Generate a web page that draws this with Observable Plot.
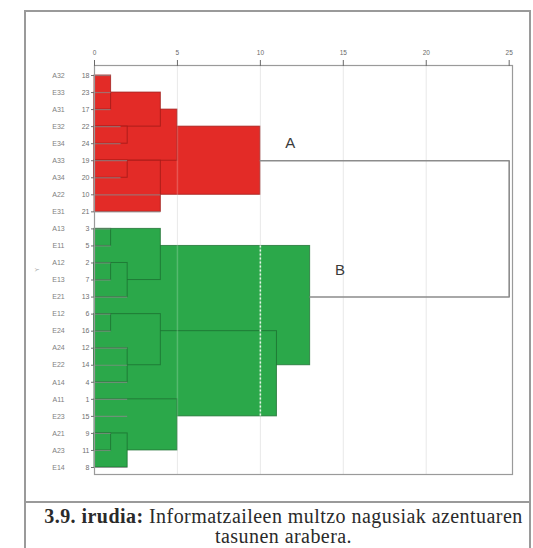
<!DOCTYPE html>
<html><head><meta charset="utf-8">
<script src="https://cdn.jsdelivr.net/npm/d3@7"></script>
<script src="https://cdn.jsdelivr.net/npm/@observablehq/plot@0.6"></script>
<style>
body{margin:0;background:#fff;}
#wrap{position:relative;width:533px;height:548px;overflow:hidden;background:#fff;}
#box{position:absolute;left:24px;top:10px;width:507px;height:600px;border:2px solid #9a9a9a;box-sizing:border-box;}
#sep{position:absolute;left:24px;top:501px;width:507px;height:2px;background:#9a9a9a;}
#chart{position:absolute;left:0;top:0;}
#cap{position:absolute;left:30px;width:507px;top:506px;text-align:center;font-family:"Liberation Serif",serif;font-size:20px;letter-spacing:0.45px;line-height:20px;color:#2a2a2a;}
</style></head>
<body>
<div id="wrap"><div id="box"></div><div id="sep"></div><div id="chart"></div>
<div id="cap"><b>3.9. irudia:</b> Informatzaileen multzo nagusiak azentuaren<br>tasunen arabera.</div></div>
<script>
// leaves (top to bottom)
const leafNames = ["A32","E33","A31","E32","E34","A33","A34","A22","E31","A13","E11","A12","E13","E21","E12","E24","A24","E22","A14","A11","E23","A21","A23","E14"];
const caseNumbers = [18,23,17,22,24,19,20,10,21,3,5,2,7,13,6,16,12,14,4,1,15,9,11,8];
const leafMergeHeight = [1,1,1,1.6,1.6,2,1.6,4,4,1,1,1,1,2,1,1,2,2,2,2,2,1,1,2];

// filled merge boxes (row span and rescaled distance)
const boxRow1   = [3, 2, 1, 5, 0, 3, 5,   10, 15, 19,  9, 14, 11, 16, 21,  9, 11, 14, 21];
const boxRow2   = [7, 5, 3, 8, 2, 4, 6,   17, 20, 22, 12, 17, 13, 18, 23, 10, 12, 15, 22];
const boxHeight = [10,5, 4, 4, 1, 2, 2,   13, 11,  5,  4,  4,  2,  2,  2,  1,  1,  1,  1];
const boxCluster = ["A","A","A","A","A","A","A","B","B","B","B","B","B","B","B","B","B","B","B"];

// top-level clusters and their join
const clusterNames = ["A","B"];
const clusterRow = [5, 13];
const clusterHeight = [10, 13];
const clusterLabelX = [11.5, 14.5];
const clusterLabelRow = [4, 11.45];
const rootHeight = 25;
const cutHeight = 10;
const cutRows = [10, 20];

const xTicks = [0,5,10,15,20,25];
const gridTicks = [5,10,15,20];

const fillColor = {A:"#e32b27", B:"#2ba84a"};
const edgeColor = {A:"#9c1a17", B:"#1c6e30"};

const rows = leafNames.map((d,i)=>i);
const boxes = boxRow1.map((r,i)=>({r1:r, r2:boxRow2[i], h:boxHeight[i], c:boxCluster[i]}))
  .sort((a,b)=>b.h-a.h);
const leaves = rows.map(i=>({row:i, name:leafNames[i], num:caseNumbers[i], h:leafMergeHeight[i]}));
const join = [
  [clusterHeight[0], clusterRow[0]],
  [rootHeight, clusterRow[0]],
  [rootHeight, clusterRow[1]],
  [clusterHeight[1], clusterRow[1]]
];

const chart = Plot.plot({
  width: 533,
  height: 500,
  marginLeft: 94,
  marginRight: 21,
  marginTop: 65,
  marginBottom: 26,
  style: {fontFamily: "Liberation Sans, Arial, sans-serif", background: "transparent"},
  x: {domain: [0, 25.2], label: null},
  y: {domain: [-0.587, 23.41], reverse: true, label: null},
  marks: [
    Plot.ruleX(gridTicks, {stroke: "#e4e4e4", strokeWidth: 1}),
    Plot.rect(boxes, {x1: 0, x2: "h", y1: "r1", y2: "r2",
      fill: d => fillColor[d.c], stroke: d => edgeColor[d.c], strokeWidth: 1, strokeOpacity: 0.75}),
    Plot.ruleY(leaves, {y: "row", x1: 0, x2: "h", stroke: "#8a8a8a", strokeOpacity: 0.7, strokeWidth: 1.2}),
    Plot.ruleX(gridTicks, {stroke: "#ffffff", strokeOpacity: 0.2, strokeWidth: 1.5}),
    Plot.ruleX([cutHeight], {y1: cutRows[0], y2: cutRows[1], stroke: "#e8f5e8", strokeWidth: 1.5, strokeDasharray: "2,2"}),
    Plot.line(join, {x: d => d[0], y: d => d[1], stroke: "#8c8c8c", strokeWidth: 1.6}),
    Plot.text(clusterNames, {x: (d,i)=>clusterLabelX[i], y: (d,i)=>clusterLabelRow[i], text: d=>d,
      fontSize: 15, fill: "#3a3a3a", textAnchor: "start"}),
    Plot.frame({stroke: "#9a9a9a", strokeWidth: 1.2}),
    Plot.axisX({anchor: "top", ticks: xTicks, tickSize: 6, tickPadding: 5, fontSize: 6.5, color: "#6a6a6a", label: null}),
    Plot.axisY({ticks: rows, tickSize: 3, tickPadding: 2, tickFormat: i => caseNumbers[i], fontSize: 7, color: "#707070", label: null}),
    Plot.text(leaves, {y: "row", text: "name", frameAnchor: "left", dx: -36, fontSize: 7, fill: "#808080", textAnchor: "middle"}),
    Plot.text(["Y"], {frameAnchor: "left", y: 11.5, dx: -57, rotate: -90, fontSize: 5, fill: "#999"})
  ]
});
document.getElementById("chart").appendChild(chart);
</script>
</body></html>
